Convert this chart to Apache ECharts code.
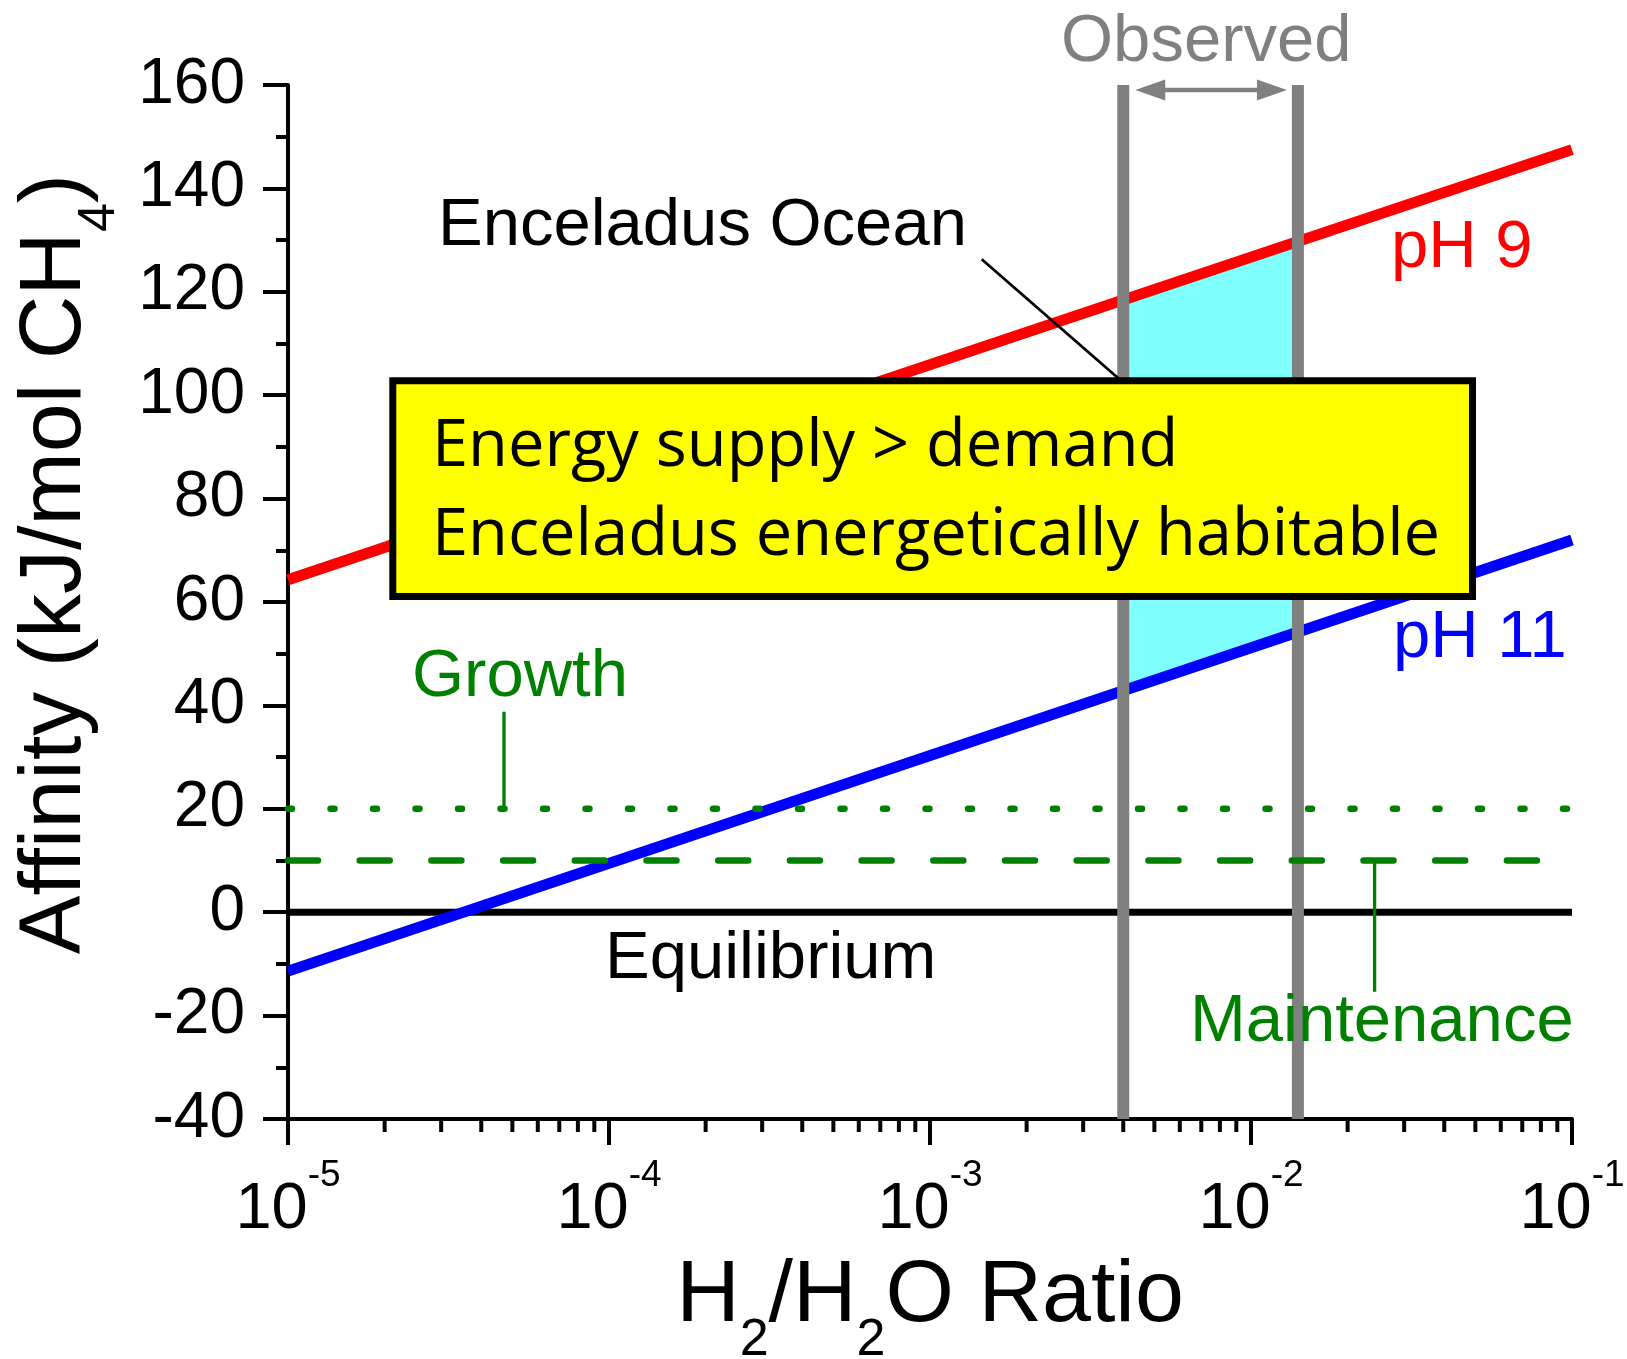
<!DOCTYPE html>
<html><head><meta charset="utf-8">
<script src="https://cdn.jsdelivr.net/npm/echarts@6/dist/echarts.min.js"></script>
<style>html,body{margin:0;padding:0;background:#fff}#c{width:1627px;height:1359px}</style>
</head><body><div id="c"></div><script>
// ---- data ----
const xRange = [1e-5, 1e-1];              // H2/H2O ratio at the two ends of the lines
const pH9 = [64.3, 147.5];                // affinity kJ/mol CH4, pH 9
const pH11 = [-11.4, 72.0];               // affinity kJ/mol CH4, pH 11
const equilibriumLevel = 0;
const growthLevel = 20;
const maintenanceLevel = 10;
const observedRange = [0.004, 0.014];     // observed H2/H2O
const observedTop = [118.4, 129.7];       // pH 9 affinity at observed bounds
const observedBottom = [42.9, 54.2];      // pH 11 affinity at observed bounds
const yMin = -40, yMax = 160, yStep = 20;
const xMinorTicks = [2e-5,3e-5,4e-5,5e-5,6e-5,7e-5,8e-5,9e-5,
                     2e-4,3e-4,4e-4,5e-4,6e-4,7e-4,8e-4,9e-4,
                     2e-3,3e-3,4e-3,5e-3,6e-3,7e-3,8e-3,9e-3,
                     2e-2,3e-2,4e-2,5e-2,6e-2,7e-2,8e-2,9e-2];

const F = '"Liberation Sans", Arial, sans-serif';
const chart = echarts.init(document.getElementById('c'), null, {renderer:'canvas'});

function hline(level, color, width, type, z, cap) {
  return {type:'line', silent:true, symbol:'none', z:z,
    data:[[xRange[0], level],[xRange[1], level]],
    lineStyle:{color:color, width:width, type:type||'solid', cap:cap||'butt'}};
}
function vline(x, z) {
  return {type:'line', silent:true, symbol:'none', z:z,
    data:[[x, yMin],[x, yMax]], lineStyle:{color:'#808080', width:12}};
}

chart.setOption({
  animation:false,
  backgroundColor:'#fff',
  grid:{left:288, top:85, right:55, bottom:240, containLabel:false, outerBoundsMode:'none'},
  xAxis:{type:'log', logBase:10, min:xRange[0], max:xRange[1],
    axisLine:{show:true, onZero:false, lineStyle:{color:'#000', width:4}},
    axisTick:{show:true, length:26, lineStyle:{color:'#000', width:4}},
    minorTick:{show:false}, splitLine:{show:false},
    axisLabel:{margin:38, formatter:v=>'{b|10}{s|'+Math.round(Math.log10(v))+'}',
      rich:{b:{fontSize:65, fontFamily:F, color:'#000', lineHeight:86, verticalAlign:'bottom'},
            s:{fontSize:37, fontFamily:F, color:'#000', lineHeight:37, verticalAlign:'top'}}},
    name:'{t|H}{s|2}{t|/H}{s|2}{t|O Ratio}', nameLocation:'middle', nameGap:134,
    nameTextStyle:{rich:{t:{fontSize:88, fontFamily:F, color:'#000', lineHeight:88, verticalAlign:'top'},
                         s:{fontSize:52, fontFamily:F, color:'#000', lineHeight:114, verticalAlign:'bottom'}}}
  },
  yAxis:{type:'value', min:yMin, max:yMax, interval:yStep,
    axisLine:{show:true, onZero:false, lineStyle:{color:'#000', width:4}},
    axisTick:{show:true, length:25, lineStyle:{color:'#000', width:4}},
    minorTick:{show:true, splitNumber:2, length:12, lineStyle:{color:'#000', width:4}},
    splitLine:{show:false},
    axisLabel:{fontSize:64, fontFamily:F, color:'#000', margin:43},
    name:'{t|Affinity (kJ/mol CH}{s|4}{t|)}', nameLocation:'middle', nameGap:162,
    nameTextStyle:{padding:[0,0,0,76],
      rich:{t:{fontSize:88, fontFamily:F, color:'#000', lineHeight:88, verticalAlign:'top'},
            s:{fontSize:52, fontFamily:F, color:'#000', lineHeight:114, verticalAlign:'bottom'}}}
  },
  series:[
    {type:'custom', silent:true, z:1, clip:true,
      data: observedRange.map((x,i)=>[x, observedBottom[i], observedTop[i]]),
      renderItem:(params, api)=>{
        if (params.dataIndex !== 0) return null;
        const pts = [api.coord([observedRange[0], observedTop[0]]), api.coord([observedRange[1], observedTop[1]]),
                     api.coord([observedRange[1], observedBottom[1]]), api.coord([observedRange[0], observedBottom[0]])];
        return {type:'polygon', shape:{points:pts}, style:{fill:'#80FFFF'}};
      }},
    hline(equilibriumLevel, '#000', 7, 'solid', 2),
    {type:'line', name:'pH 9', silent:true, symbol:'none', z:3,
      data:[[xRange[0], pH9[0]],[xRange[1], pH9[1]]], lineStyle:{color:'#FF0000', width:11}},
    {type:'line', name:'pH 11', silent:true, symbol:'none', z:3,
      data:[[xRange[0], pH11[0]],[xRange[1], pH11[1]]], lineStyle:{color:'#0000FF', width:11}},
    vline(observedRange[0], 4),
    vline(observedRange[1], 4),
    hline(growthLevel, '#008000', 6.5, [4, 38.5], 5, 'round'),
    hline(maintenanceLevel, '#008000', 6.5, [30, 41.7], 5, 'round'),
    {type:'custom', silent:true, z:6, clip:false,
      data: xMinorTicks.map(v=>[v, yMin]),
      renderItem:(params, api)=>{
        const p = api.coord([api.value(0), api.value(1)]);
        return {type:'line', shape:{x1:p[0], y1:p[1], x2:p[0], y2:p[1]+13}, style:{stroke:'#000', lineWidth:4}};
      }}
  ]
});

// ---- annotations ----
function txt(text, x, baseline, size, color, family) {
  return {type:'text', z:100, silent:true,
    style:{text:text, x:x, y:baseline - 0.29*size, font:size+'px '+(family||F), fill:color,
           textAlign:'left', textVerticalAlign:'middle', align:'left', verticalAlign:'middle'}};
}
function seg(x1,y1,x2,y2,color,w,z) {
  return {type:'line', z:z||100, silent:true, shape:{x1,y1,x2,y2}, style:{stroke:color, lineWidth:w}};
}
const L = chart.convertToPixel({gridIndex:0}, [observedRange[0], yMax]);
const R = chart.convertToPixel({gridIndex:0}, [observedRange[1], yMax]);
const ay = L[1] + 5;
const tipL = L[0] + 12, tipR = R[0] - 11;
const BOXF = '"Open Sans", Lato, sans-serif';
chart.setOption({graphic:[
  // observed arrow
  seg(tipL+20, ay, tipR-20, ay, '#808080', 4.5, 90),
  {type:'polygon', z:90, silent:true, shape:{points:[[tipL,ay],[tipL+30,ay-10.5],[tipL+30,ay+10.5]]}, style:{fill:'#808080'}},
  {type:'polygon', z:90, silent:true, shape:{points:[[tipR,ay],[tipR-30,ay-10.5],[tipR-30,ay+10.5]]}, style:{fill:'#808080'}},
  txt('Observed', 1061, 61.7, 67, '#808080'),
  // Enceladus Ocean
  txt('Enceladus Ocean', 438, 246, 67, '#000'),
  seg(981.7, 259.3, 1118.3, 378.3, '#000', 2.8, 95),
  // box
  {type:'rect', z:96, silent:true, shape:{x:392.8, y:380.8, width:1079.7, height:215.7},
    style:{fill:'#FFFF00', stroke:'#000', lineWidth:7}},
  txt('Energy supply > demand', 432, 466.7, 65, '#000', BOXF),
  txt('Enceladus energetically habitable', 432, 555, 65, '#000', BOXF),
  // line labels
  txt('pH 9', 1391, 268, 67, '#FF0000'),
  txt('pH 11', 1393, 658, 67, '#0000FF'),
  txt('Growth', 412, 696.7, 67, '#008000'),
  seg(504, 711.7, 504, 808.8, '#008000', 3.3, 95),
  txt('Maintenance', 1190, 1041.5, 67, '#008000'),
  seg(1374.6, 860.5, 1374.6, 991.7, '#008000', 3.3, 95),
  txt('Equilibrium', 605, 978.5, 67, '#000')
]});
</script></body></html>
